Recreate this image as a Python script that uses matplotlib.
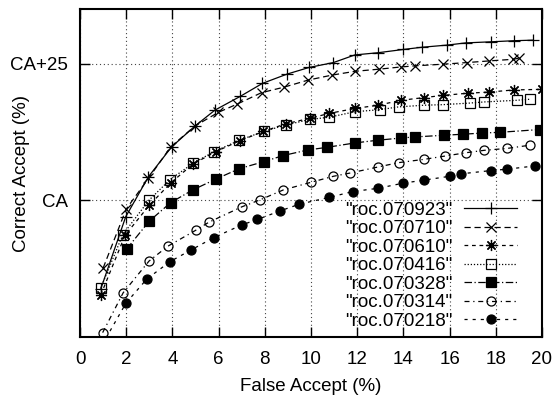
import matplotlib
matplotlib.use("Agg")
import matplotlib.pyplot as plt

plt.rcParams['font.family'] = ['Liberation Sans', 'DejaVu Sans']

labels = ['"roc.070923"', '"roc.070710"', '"roc.070610"', '"roc.070416"',
          '"roc.070328"', '"roc.070314"', '"roc.070218"']

x_070923 = [0.9, 1.98, 2.96, 3.97, 4.98, 5.84, 6.93, 7.9, 8.97, 9.91, 10.97, 11.9,
            12.9, 14.0, 14.8, 15.9, 16.7, 17.8, 18.8, 19.6]
y_070923 = [-16.2, -3.0, 4.3, 9.8, 13.6, 16.5, 19.0, 21.4, 23.1, 24.3, 25.2, 26.6,
            27.0, 27.6, 28.0, 28.4, 28.8, 29.0, 29.2, 29.3]

x_070710 = [1.0, 2.0, 2.96, 3.93, 4.98, 5.99, 6.8, 7.86, 8.83, 9.88, 10.9, 11.9,
            12.96, 13.9, 14.5, 15.7, 16.75, 17.7, 18.75, 19.0]
y_070710 = [-12.4, -1.6, 4.0, 9.8, 13.6, 16.1, 17.6, 19.7, 20.7, 22.0, 22.9, 23.6,
            24.0, 24.4, 24.6, 24.9, 25.2, 25.5, 25.8, 26.0]

x_070610 = [0.9, 1.95, 3.0, 3.93, 4.88, 5.87, 6.92, 7.94, 8.9, 9.95, 10.78, 11.9,
            12.9, 13.9, 14.9, 15.73, 16.8, 17.7, 18.8, 20.0]
y_070610 = [-17.3, -6.4, -0.9, 3.2, 6.6, 8.9, 10.9, 12.6, 14.0, 15.0, 15.9, 16.8,
            17.4, 18.3, 18.8, 19.2, 19.6, 19.8, 20.2, 20.3]

x_070416 = [0.9, 1.85, 2.98, 3.9, 4.9, 5.8, 6.9, 7.95, 8.92, 9.96, 10.78, 11.9,
            13.0, 13.8, 14.9, 15.7, 16.9, 17.5, 18.9, 19.5]
y_070416 = [-16.0, -6.3, 0.0, 3.8, 6.8, 8.9, 11.0, 12.6, 13.8, 14.8, 15.2, 16.2,
            16.6, 17.1, 17.4, 17.5, 17.8, 18.0, 18.3, 18.5]

x_070328 = [2.02, 3.0, 3.93, 4.88, 5.89, 6.9, 7.98, 8.8, 9.85, 10.7, 11.9, 12.9,
            13.9, 14.5, 15.75, 16.6, 17.4, 18.2, 19.9]
y_070328 = [-8.9, -3.8, -0.4, 1.9, 3.9, 5.8, 7.1, 8.2, 9.2, 9.7, 10.5, 11.0,
            11.4, 11.6, 11.9, 12.1, 12.3, 12.45, 12.95]

x_070314 = [0.98, 1.87, 2.99, 3.8, 5.0, 5.58, 7.0, 7.8, 8.8, 10.0, 10.97, 11.7,
            12.9, 13.8, 14.9, 15.8, 16.7, 17.5, 18.5, 19.5]
y_070314 = [-24.2, -16.9, -11.1, -8.4, -5.5, -4.0, -1.2, 0.1, 1.9, 3.3, 4.4, 5.0,
            6.1, 6.9, 7.5, 8.1, 8.7, 9.15, 9.5, 10.1]

x_070218 = [0.95, 1.99, 2.89, 3.9, 4.8, 5.8, 7.0, 7.68, 8.65, 9.5, 10.8, 11.8,
            12.9, 14.0, 14.9, 16.0, 16.5, 17.8, 18.5, 19.7]
y_070218 = [-26.5, -18.8, -14.4, -11.2, -9.1, -6.8, -4.5, -3.5, -1.95, -0.7, 0.55, 1.6,
            2.2, 3.15, 3.7, 4.4, 4.85, 5.45, 5.7, 6.3]

xs = [x_070923, x_070710, x_070610, x_070416, x_070328, x_070314, x_070218]
ys = [y_070923, y_070710, y_070610, y_070416, y_070328, y_070314, y_070218]

x_ticks = list(range(0, 21, 2))
y_ticks = [0, 25]
y_ticklabels = ['CA', 'CA+25']

styles = [
    dict(ls='-', marker='+', ms=8, mfc='none', mew=0.9),
    dict(ls=(0, (5, 3)), marker='x', ms=6.5, mfc='none', mew=0.9),
    dict(ls=(0, (3, 3)), marker=(8, 2, 0), ms=8, mfc='none', mew=0.9),
    dict(ls=(0, (1, 1.5)), marker='s', ms=6.5, mfc='none', mew=0.9),
    dict(ls=(0, (6, 2, 1, 2)), marker='s', ms=6.5, mfc='black', mew=0.9),
    dict(ls=(0, (4, 3, 1, 3)), marker='o', ms=6.5, mfc='none', mew=0.9),
    dict(ls=(0, (2.5, 4)), marker='o', ms=6.5, mfc='black', mew=0.9),
]

fig = plt.figure(figsize=(5.55, 3.96), dpi=100)
ax = fig.add_axes([80/555, 1-337/396, (542-80)/555, (337-9)/396])

for x, y, lab, st in zip(xs, ys, labels, styles):
    ax.plot(x, y, color='black', lw=0.9, mec='black', label=lab, **st)

ax.set_xlim(0, 20)
ax.set_ylim(-25, 35)
ax.set_xticks(x_ticks)
ax.set_yticks(y_ticks)
ax.set_yticklabels(y_ticklabels)
ax.grid(True, color='#444444', ls=(0, (1, 2.5)), lw=0.8)
ax.tick_params(direction='in', length=7, width=1.0, top=True, right=True,
               labelsize=13.5)
ax.tick_params(axis='x', pad=10)
ax.tick_params(axis='y', pad=8.5)
for s in ax.spines.values():
    s.set_linewidth(1.5)

ax.set_xlabel('False Accept (%)', fontsize=13.5, labelpad=7.5)
ax.set_ylabel('Correct Accept (%)', fontsize=13.5)
ax.yaxis.set_label_coords((30 - 80) / 462, 0.5)

leg = ax.legend(loc='lower right', bbox_to_anchor=(0.963, 0.0), frameon=False,
                markerfirst=False, fontsize=13.5, handlelength=2.85,
                handletextpad=0.6, labelspacing=0.07, borderpad=0.2,
                borderaxespad=0.2)

fig.savefig('out.png', dpi=100)
